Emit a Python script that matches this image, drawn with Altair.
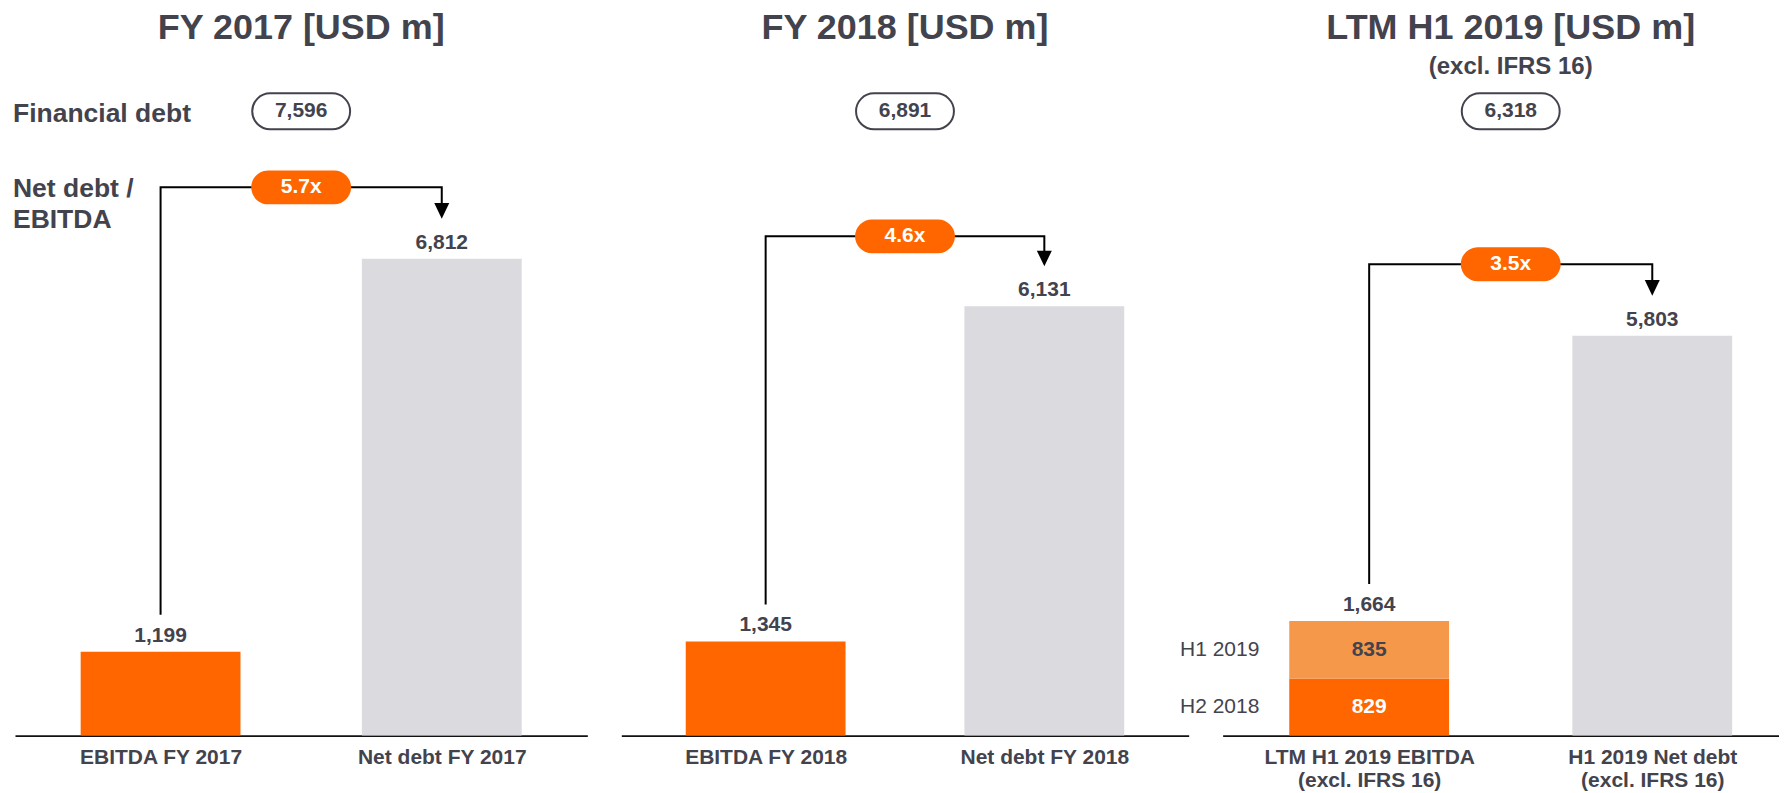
import json
import altair as alt
import pandas as pd

# ---------------- data ----------------
panel_titles = ["FY 2017 [USD m]", "FY 2018 [USD m]", "LTM H1 2019 [USD m]"]
panel_subtitles = ["", "", "(excl. IFRS 16)"]
financial_debt = [7596, 6891, 6318]
leverage_text = ["5.7x", "4.6x", "3.5x"]
ebitda = [1199, 1345, 1664]
net_debt = [6812, 6131, 5803]
bracket_level = [7830, 7130, 6840]
ebitda_axis_labels = ["EBITDA FY 2017", "EBITDA FY 2018", "LTM H1 2019 EBITDA|(excl. IFRS 16)"]
net_debt_axis_labels = ["Net debt FY 2017", "Net debt FY 2018", "H1 2019 Net debt|(excl. IFRS 16)"]
ltm_parts = ["H2 2018", "H1 2019"]
ltm_part_values = [829, 835]
row_labels = ["Financial debt", "Net debt /", "EBITDA"]

# ---------------- style / layout ----------------
FONT = "Liberation Sans"
TEXT = "#43434D"
ORANGE = "#FF6600"
LIGHT_ORANGE = "#F5984A"
GREY = "#DADADF"
TOP = 2                      # top padding (px)
PLOT_H = 728 - TOP
widths = [573, 568, 557]
x_domains = [[-0.5, 1.5], [-0.5, 1.5], [-0.5, 1.43]]
px_per_unit = [0.0701, 0.0701, 0.0690]
BAR_W = 160

PILL = ("M -0.66 -0.34 L 0.66 -0.34 A 0.34 0.34 0 0 1 0.66 0.34 "
        "L -0.66 0.34 A 0.34 0.34 0 0 1 -0.66 -0.34 Z")
FPILL = ("M -0.633 -0.367 L 0.633 -0.367 A 0.367 0.367 0 0 1 0.633 0.367 "
         "L -0.633 0.367 A 0.367 0.367 0 0 1 -0.633 -0.367 Z")
ARROW = "M -1 -2.1 L 1 -2.1 L 0 0 Z"

kind_domain = ["EBITDA", ltm_parts[0], ltm_parts[1], "Net debt"]
kind_range = [ORANGE, ORANGE, LIGHT_ORANGE, GREY]


def make_panel(i):
    W = widths[i]
    ppu = px_per_unit[i]
    ymax = PLOT_H / ppu
    xs = alt.Scale(domain=x_domains[i], nice=False, zero=False)
    ys = alt.Scale(domain=[0, ymax], nice=False, zero=True)
    label_expr = "split(datum.value == 0 ? %s : %s, '|')" % (
        json.dumps(ebitda_axis_labels[i]), json.dumps(net_debt_axis_labels[i]))
    x_axis = alt.Axis(values=[0, 1], labelExpr=label_expr, title=None, ticks=False,
                      tickSize=0, grid=False, domainColor="#111111", domainWidth=1.6,
                      labelFont=FONT, labelFontSize=21, labelFontWeight="bold",
                      labelColor=TEXT, labelPadding=11, labelLineHeight=23,
                      labelBaseline="top", labelAngle=0, labelFlush=False,
                      labelOverlap=False, labelLimit=500)

    def X():
        return alt.X("pos:Q", scale=xs, axis=x_axis)

    def Y(f):
        return alt.Y(f, scale=ys, axis=None)

    if i < 2:
        bars = pd.DataFrame({"pos": [0, 1], "seg": [0, 0], "kind": ["EBITDA", "Net debt"],
                             "value": [ebitda[i], net_debt[i]]})
    else:
        bars = pd.DataFrame({"pos": [0, 0, 1], "seg": [0, 1, 0],
                             "kind": [ltm_parts[0], ltm_parts[1], "Net debt"],
                             "value": [ltm_part_values[0], ltm_part_values[1], net_debt[i]]})

    stacked = alt.Chart(bars).transform_stack(
        stack="value", groupby=["pos"], as_=["lo", "hi"],
        sort=[alt.SortField("seg", order="ascending")])

    layers = []
    layers.append(stacked.mark_bar(width=BAR_W).encode(
        x=X(), y=Y("lo:Q"), y2="hi:Q",
        color=alt.Color("kind:N", scale=alt.Scale(domain=kind_domain, range=kind_range), legend=None)))

    # totals above bars
    tot = pd.DataFrame({"pos": [0, 1], "value": [ebitda[i], net_debt[i]]})
    layers.append(alt.Chart(tot).mark_text(font=FONT, fontSize=21, fontWeight="bold", color=TEXT,
                                           baseline="alphabetic", dy=-10).encode(
        x=X(), y=Y("value:Q"), text=alt.Text("value:Q", format=",")))

    # bracket
    gap_e = 37 / ppu
    gap_a = 40 / ppu
    br = pd.DataFrame({"pos": [0, 0, 1, 1], "order": [0, 1, 2, 3],
                       "y": [ebitda[i] + gap_e, bracket_level[i], bracket_level[i],
                             net_debt[i] + gap_a + 4 / ppu]})
    layers.append(alt.Chart(br).mark_line(color="black", strokeWidth=2, strokeJoin="miter").encode(
        x=X(), y=Y("y:Q"), order="order:Q"))
    arr = pd.DataFrame({"pos": [1], "y": [net_debt[i] + gap_a]})
    layers.append(alt.Chart(arr).mark_point(shape=ARROW, size=225, filled=True, color="black",
                                            opacity=1).encode(x=X(), y=Y("y:Q")))

    # leverage pill
    lev = pd.DataFrame({"pos": [0.5], "y": [bracket_level[i]], "t": [leverage_text[i]]})
    layers.append(alt.Chart(lev).mark_point(shape=PILL, size=10000, filled=True, color=ORANGE,
                                            opacity=1).encode(x=X(), y=Y("y:Q")))
    layers.append(alt.Chart(lev).mark_text(font=FONT, fontSize=21, fontWeight="bold", color="white",
                                           baseline="middle").encode(x=X(), y=Y("y:Q"), text="t:N"))

    # financial debt pill
    fd = pd.DataFrame({"pos": [0.5], "v": [financial_debt[i]]})
    layers.append(alt.Chart(fd).mark_point(shape=FPILL, size=9604, filled=True, fill="white",
                                           stroke=TEXT, strokeWidth=2, opacity=1).encode(
        x=X(), y=alt.value(103 - TOP)))
    layers.append(alt.Chart(fd).mark_text(font=FONT, fontSize=21, fontWeight="bold", color=TEXT,
                                          baseline="middle").encode(
        x=X(), y=alt.value(103 - TOP), text=alt.Text("v:Q", format=",")))

    # title
    tt = pd.DataFrame({"pos": [0.5], "t": [panel_titles[i]], "s": [panel_subtitles[i]]})
    layers.append(alt.Chart(tt).mark_text(font=FONT, fontSize=36, fontWeight="bold", color=TEXT,
                                          baseline="alphabetic").encode(
        x=X(), y=alt.value(31 - TOP), text="t:N"))
    if panel_subtitles[i]:
        layers.append(alt.Chart(tt).mark_text(font=FONT, fontSize=24, fontWeight="bold", color=TEXT,
                                              baseline="alphabetic").encode(
            x=X(), y=alt.value(66 - TOP), text="s:N"))

    if i == 2:
        seg = stacked.transform_calculate(mid="(datum.lo + datum.hi) / 2")
        layers.append(seg.transform_filter("datum.pos == 0").mark_text(
            font=FONT, fontSize=21, fontWeight="bold", baseline="middle").encode(
            x=X(), y=Y("mid:Q"), text=alt.Text("value:Q", format=","),
            color=alt.condition(alt.datum.seg == 0, alt.value("white"), alt.value(TEXT))))
        layers.append(seg.transform_filter("datum.pos == 0").mark_text(
            font=FONT, fontSize=21, color=TEXT, align="right", dx=-110, baseline="middle").encode(
            x=X(), y=Y("mid:Q"), text="kind:N"))

    if i == 0:
        for txt, py in zip(row_labels, [114, 189, 220]):
            layers.append(alt.Chart(pd.DataFrame({"t": [txt]})).mark_text(
                font=FONT, fontSize=26.5, fontWeight="bold", color=TEXT, align="left",
                baseline="alphabetic", dx=-2).encode(x=alt.value(0), y=alt.value(py - TOP), text="t:N"))

    return alt.layer(*layers).properties(width=W, height=PLOT_H)


p0, p1, p2 = (make_panel(k) for k in range(3))
chart = alt.hconcat(p0, p1, p2, spacing=34, bounds="flush").properties(
    padding={"left": 5, "top": TOP, "right": 0, "bottom": 0}
).configure_view(stroke=None)

chart.save("out.html", embed_options={"renderer": "svg", "actions": False})
